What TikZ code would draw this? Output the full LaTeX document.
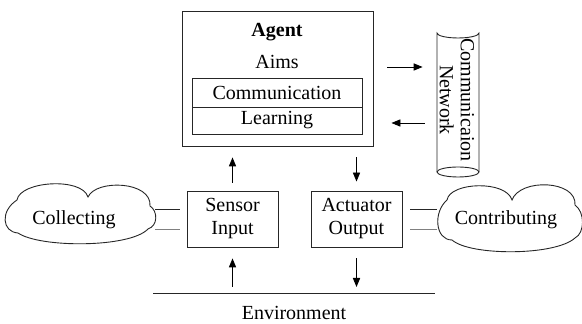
\documentclass[tikz,border=0pt]{standalone}
\usepackage{fontspec}
\setmainfont{Liberation Serif}
\usetikzlibrary{arrows.meta}
\begin{document}
\begin{tikzpicture}[x=0.5pt,y=-0.5pt,
  every node/.style={font=\fontsize{10}{11.5}\selectfont, inner sep=0pt},
  box/.style={draw=black!85, line width=0.45pt, align=center},
  arr/.style={-{Triangle[length=4.5pt,width=3.6pt]}, line width=0.45pt},
  link/.style={line width=0.45pt, draw=black!85}]
\useasboundingbox (0,0) rectangle (582,324);

% agent with its inner modules
\node[box, minimum width=95.5pt, minimum height=67.5pt] (agent) at (277.5,78.5) {};
\node[font=\fontsize{10}{11.5}\selectfont\bfseries] (agenttitle) at (277,32) {Agent};
\node (aims) at (277,62) {Aims};
\node[box, minimum width=85pt, minimum height=14.5pt] (comm) at (277,92.5) {Communication};
\node[box, minimum width=85pt, minimum height=13.5pt] (learn) at (277,120.5) {Learning};

% sensor and actuator
\node[box, minimum width=45.5pt, minimum height=28pt] (sensor) at (232.5,219) {Sensor\\Input};
\node[box, minimum width=45.5pt, minimum height=28pt] (act) at (356.5,219) {Actuator\\Output};

% clouds
\draw[link] (17,200) .. controls (20,181) and (82,177) .. (88,197)
  .. controls (96,179) and (152,181) .. (150,206)
  .. controls (158,211) and (158,226) .. (148,229)
  .. controls (130,248) and (40,248) .. (18,233)
  .. controls (2,232) and (0,211) .. cycle;
\node (coll) at (74,220) {Collecting};
\draw[link] (447,200) .. controls (450,182) and (506,180) .. (512,200)
  .. controls (520,178) and (577,180) .. (575,205)
  .. controls (585,212) and (585,233) .. (575,238)
  .. controls (555,256) and (470,256) .. (452,240)
  .. controls (435,240) and (433,212) .. cycle;
\node (contr) at (506,220) {Contributing};

% communication network cylinder
\node[minimum width=21pt, minimum height=74.5pt] (net) at (458,102.5) {};
\draw[link] (437,172) -- (437,33) arc[start angle=180, end angle=0, x radius=21, y radius=5]
  -- (479,172);
\draw[link] (458,172) ellipse[x radius=21, y radius=5];
\node[rotate=-90, align=center, font=\fontsize{10}{10.5}\selectfont] (nettext) at (457,100) {Communicaion\\Network};

% environment
\coordinate (envL) at (153,293);
\coordinate (envR) at (435,293);
\draw[link] (envL) -- (envR);
\node (env) at (294,313) {Environment};

% arrows
\draw[arr, shorten <=4pt, shorten >=5.5pt] (sensor.north) -- (sensor.north |- agent.south);
\draw[arr, shorten <=5.5pt, shorten >=4.5pt] (act.north |- agent.south) -- (act.north);
\draw[arr, shorten <=3pt, shorten >=5.5pt] (sensor.south |- envL) -- (sensor.south);
\draw[arr, shorten <=5.5pt, shorten >=3pt] (act.south) -- (act.south |- envL);
\draw[arr, shorten <=7pt, shorten >=7pt] ([yshift=5.75pt]agent.east) -- ([yshift=5.75pt]agent.east -| net.west);
\draw[arr, shorten <=6pt, shorten >=9pt] ([yshift=-22.25pt]agent.east -| net.west) -- ([yshift=-22.25pt]agent.east);

% cloud links
\draw[link] ([yshift=5pt,xshift=-3.5pt]sensor.west) -- ++(-12.5pt,0);
\draw[link, draw=gray] ([yshift=-5pt,xshift=-3.5pt]sensor.west) -- ++(-12.5pt,0);
\draw[link] ([yshift=5pt,xshift=4pt]act.east) -- ++(13.5pt,0);
\draw[link, draw=gray] ([yshift=-5pt,xshift=4pt]act.east) -- ++(13.5pt,0);
\end{tikzpicture}
\end{document}
